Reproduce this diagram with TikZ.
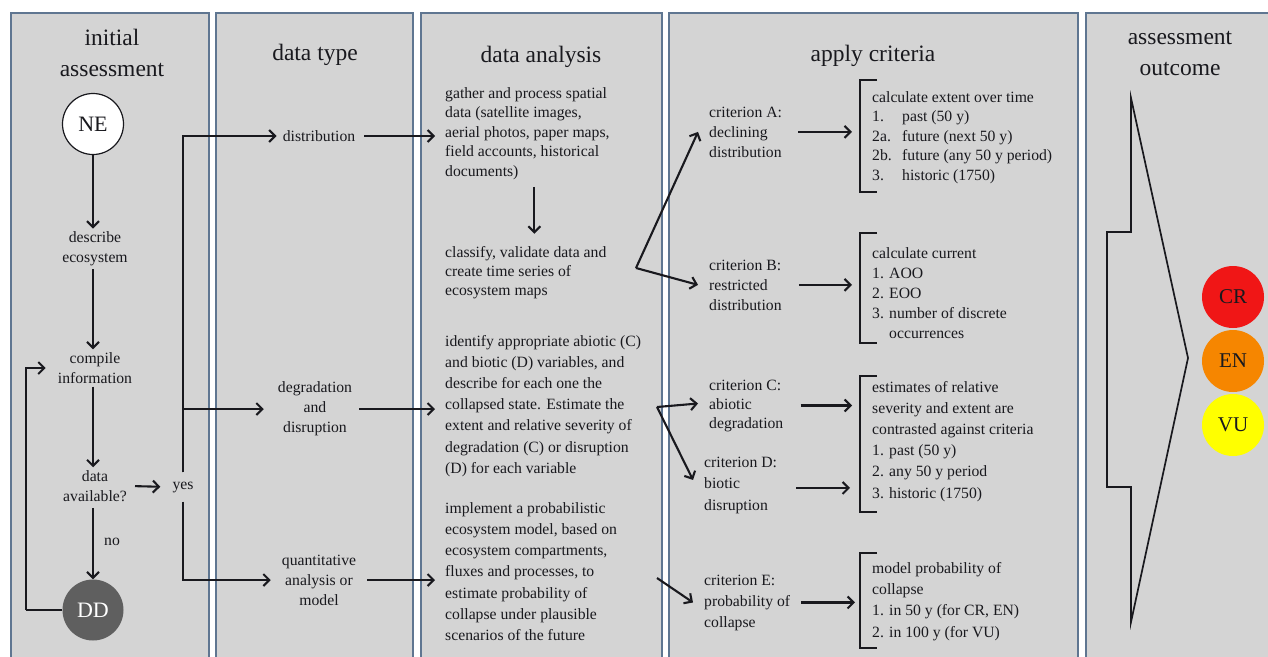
\documentclass[tikz,border=0pt]{standalone}
\usepackage{fontspec}
\setmainfont{Liberation Serif}
\usetikzlibrary{arrows.meta,calc}
\definecolor{panelfill}{RGB}{212,212,212}
\definecolor{panelline}{RGB}{95,118,145}
\definecolor{ddgray}{RGB}{95,95,95}
\definecolor{crred}{RGB}{240,22,22}
\definecolor{enorange}{RGB}{246,134,0}
\definecolor{vuyellow}{RGB}{255,255,0}
\definecolor{ink}{RGB}{25,25,30}
\begin{document}
\begin{tikzpicture}[x=1pt,y=-1pt,
  arr/.style={-{Straight Barb[length=6pt,width=12pt]}, line width=2.1pt, draw=ink},
  ln/.style={line width=2.1pt, draw=ink},
  brk/.style={line width=2pt, draw=ink},
  ttl/.style={font=\fontsize{23.5}{31}\selectfont, align=center, text=ink, inner sep=0pt},
  ctxt/.style={font=\fontsize{15.7}{20}\selectfont, align=center, text=ink, inner sep=3pt},
  ltxt/.style={font=\fontsize{15.7}{#1}\selectfont, align=left, text=ink, inner sep=0pt, anchor=base west},
  ltxt/.default=20,
  pfill/.style={fill=panelfill},
  pborder/.style={draw=panelline, line width=2pt},
  bigc/.style={circle, minimum size=61pt, inner sep=0pt, font=\fontsize{22}{22}\selectfont},
  catc/.style={circle, minimum size=62pt, inner sep=0pt, font=\fontsize{21}{21}\selectfont, text=ink},
]
\useasboundingbox (0,0) rectangle (1268,656);
\fill[white] (0,0) rectangle (1268,656);
% panels
\foreach \xa/\xb in {11/209, 216/413, 421/662, 669/1078, 1086/1280}{
  \fill[pfill] (\xa,13) rectangle (\xb,670);
  \draw[pborder] (\xa,670) -- (\xa,13) -- (\xb,13) -- (\xb,670);
}
% ---------- panel 1 : initial assessment
\node[ttl] (t1) at (112,53) {initial\\assessment};
\node[bigc, draw=ink, line width=1.2pt, fill=white, text=ink] (NE) at (93,124) {NE};
\node[ctxt] (desc) at (95,249) {describe\\ecosystem};
\node[ctxt] (comp) at (95,368) {compile\\information};
\node[ctxt] (avail) at (95,486) {data\\available?};
\node[ctxt] (yes) at (183,487) {yes};
\node[bigc, fill=ddgray, text=white] (DD) at (93,610) {DD};
\node[ctxt, anchor=west] (no) at (101,542) {no};
\coordinate (fb) at (26,610);
\draw[arr] (NE.south) -- (NE.south |- desc.north);
\draw[arr] (desc.south -| NE) -- (comp.north -| NE);
\draw[arr] (comp.south -| NE) -- (avail.north -| NE);
\draw[arr, shorten <=5pt, shorten >=9pt] (avail.east) -- (yes.west);
\draw[arr, shorten <=3pt] (avail.south -| NE) -- (DD.north);
\draw[ln] (DD.west) -- (fb);
\draw[arr, shorten >=9pt] (fb) |- (comp.west);
% ---------- panel 2 : data type
\node[ttl] (t2) at (315,55) {data type};
\node[ctxt] (dist) at (319,136) {distribution};
\node[ctxt] (degr) at (315,409) {degradation\\and\\disruption};
\node[ctxt] (quant) at (319,580) {quantitative\\analysis or\\model};
\draw[arr, shorten >=3pt] ([yshift=6pt]yes.north) |- (dist.west);
\draw[arr, shorten >=11pt] ([yshift=6pt]yes.north) |- (degr.west);
\draw[arr, shorten >=8pt] ([yshift=-6pt]yes.south) |- (quant.west);
% ---------- panel 3 : data analysis
\node[ttl] (t3) at (541,57) {data analysis};
\node[ltxt=19.6] (b1) at (445,176.4) {gather and process spatial\\data (satellite images,\\aerial photos, paper maps,\\field accounts, historical\\documents)};
\node[ltxt=19.3] (b2) at (445,295.6) {classify, validate data and\\create time series of\\ecosystem maps};
\node[ltxt=21.2] (b3) at (445,473.2) {identify appropriate abiotic (C)\\and biotic (D) variables, and\\describe for each one the\\collapsed state. Estimate the\\extent and relative severity of\\degradation (C) or disruption\\(D) for each variable};
\node[ltxt=21.3] (b4) at (445,640.8) {implement a probabilistic\\ecosystem model, based on\\ecosystem compartments,\\fluxes and processes, to\\estimate probability of\\collapse under plausible\\scenarios of the future};
\draw[arr, shorten <=6pt, shorten >=10pt] (dist.east) -- (dist.east -| b1.west);
\draw[arr, shorten <=4pt, shorten >=10pt] (degr.east) -- (degr.east -| b3.west);
\draw[arr, shorten <=8pt, shorten >=10pt] (quant.east) -- (quant.east -| b4.west);
\draw[arr] ([xshift=7pt,yshift=-7pt]b1.south) -- ([xshift=7pt,yshift=12pt]b1.south |- b2.north);
% ---------- panel 4 : apply criteria
\node[ttl] (t4) at (873,56) {apply criteria};
\node[ltxt=20] (crA) at (709,157) {criterion A:\\declining\\distribution};
\node[ltxt=20] (crB) at (709,310) {criterion B:\\restricted\\distribution};
\node[ltxt=19] (crC) at (709,428) {criterion C:\\abiotic\\degradation};
\node[ltxt=21.5] (crD) at (704,510) {criterion D:\\biotic\\disruption};
\node[ltxt=21] (crE) at (704,627) {criterion E:\\probability of\\collapse};
\node[ltxt=19.5] (tA) at (872,180) {calculate extent over time\\\makebox[30pt][l]{1.}past (50 y)\\\makebox[30pt][l]{2a.}future (next 50 y)\\\makebox[30pt][l]{2b.}future (any 50 y period)\\\makebox[30pt][l]{3.}historic (1750)};
\node[ltxt=20] (tB) at (872,338) {calculate current\\1. AOO\\2. EOO\\3. number of discrete\\\phantom{3. }occurrences};
\node[ltxt=21.2] (tCD) at (872,498) {estimates of relative\\severity and extent are\\contrasted against criteria\\1. past (50 y)\\2. any 50 y period\\3. historic (1750)};
\node[ltxt=21.3] (tE) at (872,637) {model probability of\\collapse\\1. in 50 y (for CR, EN)\\2. in 100 y (for VU)};
% brackets
\draw[brk] (877,80) -- (860,80) -- (860,192) -- (877,192);
\draw[brk] (877,233) -- (860,233) -- (860,343) -- (877,343);
\draw[brk] (877,376) -- (860,376) -- (860,512) -- (877,512);
\draw[brk] (877,553) -- (860,553) -- (860,648) -- (877,648);
% junctions
\coordinate (j1) at (636,268);
\coordinate (j2) at (657,407);
\coordinate (j3) at (657,578);
\draw[arr] (j1) -- ([xshift=-11pt]crA.west);
\draw[arr] (j1) -- ([xshift=-11pt]crB.west);
\draw[arr] (j2) -- ([xshift=-11pt,yshift=2pt]crC.west);
\draw[arr] (j2) -- ([xshift=-11pt,yshift=5pt]crD.west);
\draw[arr] (j3) -- ([xshift=-11pt]crE.west);
\draw[arr, shorten <=16pt, shorten >=20pt] (crA.east) -- (crA.east -| tA.west);
\draw[arr, shorten <=17pt, shorten >=20pt] (crB.east) -- (crB.east -| tB.west);
\draw[arr, shorten <=17pt, shorten >=20pt] (crC.east) -- (crC.east -| tCD.west);
\draw[arr, shorten <=19pt, shorten >=22pt] ([yshift=-3pt]crD.east) -- ([yshift=-3pt]crD.east -| tCD.west);
\draw[arr, shorten <=11pt, shorten >=17pt] (crE.east) -- (crE.east -| tE.west);
% ---------- panel 5 : assessment outcome
\node[ttl] (t5) at (1180,53) {assessment\\outcome};
\draw[line width=1.7pt, draw=ink, line join=miter] (1131,98) -- (1131,232) -- (1107,232) -- (1107,487) -- (1131,487) -- (1131,622) -- (1188,358) -- cycle;
\node[catc, fill=crred] (CR) at (1233,297) {CR};
\node[catc, fill=enorange] (EN) at (1233,361) {EN};
\node[catc, fill=vuyellow] (VU) at (1233,425) {VU};
\end{tikzpicture}
\end{document}
